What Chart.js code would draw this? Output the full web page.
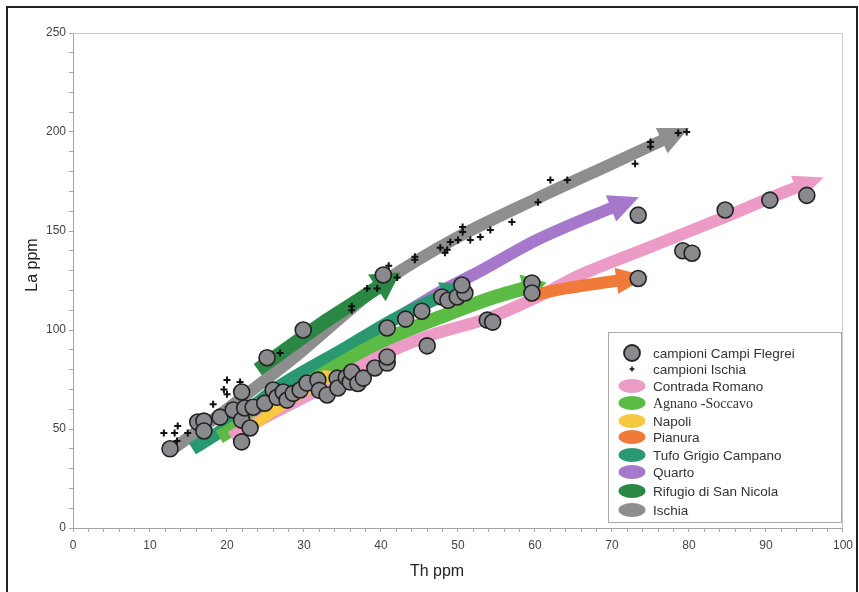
<!DOCTYPE html>
<html>
<head>
<meta charset="utf-8">
<script src="https://cdn.jsdelivr.net/npm/chart.js@4.4.0/dist/chart.umd.min.js"></script>
<style>
  html, body { margin: 0; padding: 0; background: #fff; }
  #wrap { position: relative; width: 859px; height: 592px; overflow: hidden; }
  #frame { position: absolute; left: 6px; top: 6px; width: 848px; height: 600px; border: 2px solid #222; pointer-events: none; }
</style>
</head>
<body>
<div id="wrap">
  <canvas id="grafico" width="859" height="592"></canvas>
  <div id="frame"></div>
</div>
<script>
// ===============================
// Dati (Th ppm / La ppm)
// ===============================
const cfTh = [12.6, 16.2, 17, 17, 19.1, 20.8, 21.9, 21.9, 21.9, 22.3, 23, 23.4, 24.9, 25.2, 26, 26.5, 27.3, 27.8, 28.6, 29.5,
  29.9, 30.4, 31.8, 32, 33, 34.3, 34.4, 35.5, 36, 36.2, 37, 37.7, 39.2, 40.3, 40.8, 40.8, 40.8, 43.2, 45.3, 46,
  47.9, 48.7, 49.9, 50.9, 50.5, 53.8, 54.5, 59.6, 59.6, 73.4, 73.4, 79.2, 80.4, 84.7, 90.5, 95.3];
const cfLa = [40, 53.5, 54, 49, 56, 59.6, 68.7, 54.5, 43.5, 60.6, 50.5, 61, 63, 86, 69.7, 66, 68.7, 64.6, 68, 69.7,
  100, 73.2, 74.7, 69.5, 67.2, 75.7, 70.7, 76, 73.7, 78.8, 73, 75.7, 80.8, 127.8, 83.3, 86.4, 101, 105.5, 109.5, 92,
  116.7, 115, 116.7, 118.7, 122.7, 105, 104, 123.7, 118.7, 158, 126, 140, 138.8, 160.6, 165.6, 168];

const iscTh = [11.8, 13.2, 13.6, 13.5, 14.9, 18.2, 19.6, 20, 20, 21.7, 26.9, 36.2, 36.2, 38.2, 39.5, 41, 42.1, 44.4, 44.4,
  47.7, 48.3, 48.6, 49, 50, 50.6, 50.6, 51.6, 52.9, 54.2, 57, 60.4, 62, 64.2, 73, 75, 75, 78.6, 79.7];
const iscLa = [48, 48, 51.5, 44, 48, 62.5, 70, 67.5, 74.7, 73.7, 88.4, 110, 112, 121, 121, 132.5, 126.5, 135.5, 137,
  141.5, 139, 140.5, 144.5, 145.5, 149.5, 152, 145.5, 147, 150.5, 154.5, 164.5, 175.8, 175.8, 184, 192.5, 195, 199.5, 200];

// Frecce di tendenza (ultimo punto = punta)
const ischiaTh = [13, 20, 29, 35, 41, 50, 60, 70, 80];
const ischiaLa = [40, 60, 87, 107, 126, 147, 166, 184, 202];
const quartoTh = [42.5, 48, 53, 60, 67, 73.5];
const quartoLa = [107, 120, 130, 145, 157, 167];
const agnanoTh = [19, 26, 33, 40, 48, 55, 61.5];
const agnanoLa = [46, 62, 79, 94, 107, 117, 124];
const romanoTh = [20.5, 25, 32, 40, 47, 54, 61, 66, 75, 84, 92, 97.5];
const romanoLa = [46, 56, 70, 87, 98, 106, 118, 128, 142, 156, 169, 177];
const tufoTh = [15.5, 20, 27, 35, 42, 51];
const tufoLa = [40, 51, 72, 90, 106, 123];
const napoliTh = [23.5, 28, 34.5];
const napoliLa = [52, 64, 79];
const pianuraTh = [59, 64, 69, 74.7];
const pianuraLa = [117, 121, 124, 127];
const rifugioTh = [24, 29, 33, 37, 42.5];
const rifugioLa = [80, 94, 105, 115, 129];

const legendLabels = ["campioni Campi Flegrei", "campioni Ischia", "Contrada Romano", "Agnano -Soccavo", "Napoli",
  "Pianura", "Tufo Grigio Campano", "Quarto", "Rifugio di San Nicola", "Ischia"];

const COL = {
  romano: "#ec9ac6",
  agnano: "#5cbb45",
  napoli: "#f7c842",
  pianura: "#f07a3a",
  tufo: "#2a9870",
  quarto: "#a678cc",
  rifugio: "#2b8744",
  ischia: "#8e8e8e"
};

function pts(xs, ys) {
  return xs.map((x, i) => ({ x, y: ys[i] }));
}

function freccia(label, xs, ys, color, width, len, half) {
  return {
    label,
    data: pts(xs, ys),
    showLine: true,
    borderColor: color,
    backgroundColor: color,
    borderWidth: width,
    borderCapStyle: "butt",
    borderJoinStyle: "round",
    tension: 0.3,
    pointRadius: 0,
    pointHoverRadius: 0,
    arrowHead: { len, half }
  };
}

// ===============================
// Plugin: punte delle frecce
// ===============================
function headGeom(meta, head) {
  const p = meta.data;
  const tip = p[p.length - 1];
  const prev = p[p.length - 2];
  const dx = tip.x - prev.x, dy = tip.y - prev.y;
  const L = Math.hypot(dx, dy) || 1;
  const ux = dx / L, uy = dy / L;
  return { tx: tip.x, ty: tip.y, ux, uy, bx: tip.x - ux * head.len, by: tip.y - uy * head.len };
}

const arrowPlugin = {
  id: "arrowHeads",
  beforeDatasetDraw(chart, args) {
    const ds = chart.data.datasets[args.index];
    if (!ds.arrowHead) return;
    const g = headGeom(args.meta, ds.arrowHead);
    const ctx = chart.ctx;
    const nx = -g.uy, ny = g.ux, B = 3000;
    const cx = g.bx + g.ux * 2, cy = g.by + g.uy * 2;
    ctx.save();
    ctx.beginPath();
    ctx.moveTo(cx + nx * B, cy + ny * B);
    ctx.lineTo(cx + nx * B - g.ux * B, cy + ny * B - g.uy * B);
    ctx.lineTo(cx - nx * B - g.ux * B, cy - ny * B - g.uy * B);
    ctx.lineTo(cx - nx * B, cy - ny * B);
    ctx.closePath();
    ctx.clip();
  },
  afterDatasetDraw(chart, args) {
    const ds = chart.data.datasets[args.index];
    if (!ds.arrowHead) return;
    const ctx = chart.ctx;
    ctx.restore();
    const g = headGeom(args.meta, ds.arrowHead);
    const h = ds.arrowHead.half;
    ctx.save();
    ctx.fillStyle = ds.borderColor;
    ctx.beginPath();
    ctx.moveTo(g.tx, g.ty);
    ctx.lineTo(g.bx - g.uy * h, g.by + g.ux * h);
    ctx.lineTo(g.bx + g.uy * h, g.by - g.ux * h);
    ctx.closePath();
    ctx.fill();
    ctx.restore();
  }
};

// Cornice dell'area del grafico
const plotBorder = {
  id: "plotBorder",
  beforeDatasetsDraw(chart) {
    const { ctx, chartArea: a } = chart;
    ctx.save();
    ctx.strokeStyle = "#cfc8c8";
    ctx.lineWidth = 1;
    ctx.beginPath();
    ctx.moveTo(a.left, a.top + 0.5);
    ctx.lineTo(a.right - 0.5, a.top + 0.5);
    ctx.lineTo(a.right - 0.5, a.bottom);
    ctx.stroke();
    ctx.restore();
  }
};

// Titoli assi + legenda
const overlay = {
  id: "overlay",
  afterDraw(chart) {
    const ctx = chart.ctx;
    ctx.save();
    ctx.fillStyle = "#222";
    ctx.font = "16px 'Liberation Sans', Arial, sans-serif";
    ctx.textAlign = "center";
    ctx.textBaseline = "middle";
    ctx.fillText("Th ppm", 437, 572);
    ctx.translate(33, 265);
    ctx.rotate(-Math.PI / 2);
    ctx.fillText("La ppm", 0, 0);
    ctx.restore();

    // legenda
    const bx = 608, by = 332, bw = 233, bh = 190;
    const rows = [353, 369, 386, 403, 421, 437, 455, 472, 491, 510];
    const sw = [null, null, COL.romano, COL.agnano, COL.napoli, COL.pianura, COL.tufo, COL.quarto, COL.rifugio, COL.ischia];
    ctx.save();
    ctx.fillStyle = "#fff";
    ctx.fillRect(bx, by, bw, bh);
    ctx.strokeStyle = "#a8a8a8";
    ctx.lineWidth = 1;
    ctx.strokeRect(bx + 0.5, by + 0.5, bw, bh);
    legendLabels.forEach((t, i) => {
      const y = rows[i];
      if (i === 0) {
        ctx.beginPath();
        ctx.arc(632, y, 8, 0, Math.PI * 2);
        ctx.fillStyle = "#8a8a8e";
        ctx.fill();
        ctx.lineWidth = 1.8;
        ctx.strokeStyle = "#222";
        ctx.stroke();
      } else if (i === 1) {
        ctx.strokeStyle = "#111";
        ctx.lineWidth = 1.6;
        ctx.beginPath();
        ctx.moveTo(629.5, y); ctx.lineTo(634.5, y);
        ctx.moveTo(632, y - 2.5); ctx.lineTo(632, y + 2.5);
        ctx.stroke();
      } else {
        ctx.beginPath();
        ctx.ellipse(632, y, 13.5, 7, 0, 0, Math.PI * 2);
        ctx.fillStyle = sw[i];
        ctx.fill();
      }
      ctx.fillStyle = "#333";
      ctx.textAlign = "left";
      ctx.textBaseline = "middle";
      ctx.font = i === 3 ? "14px 'Liberation Serif', 'DejaVu Serif', serif" : "13.5px 'Liberation Sans', Arial, sans-serif";
      ctx.fillText(t, 653, y + 1);
    });
    ctx.restore();
  }
};

// ===============================
// Grafico
// ===============================
Chart.defaults.font.family = "'Liberation Sans', Arial, sans-serif";
const AXIS = "#aaa2a0";

const ctx = document.getElementById("grafico");
new Chart(ctx, {
  type: "scatter",
  data: {
    datasets: [
      {
        label: "campioni Campi Flegrei",
        data: pts(cfTh, cfLa),
        pointRadius: 8,
        pointBackgroundColor: "#8a8a8e",
        pointBorderColor: "#222",
        pointBorderWidth: 1.6
      },
      {
        label: "campioni Ischia",
        data: pts(iscTh, iscLa),
        pointStyle: "cross",
        pointRadius: 3.5,
        pointBorderColor: "#111",
        pointBorderWidth: 2
      },
      freccia("Rifugio di San Nicola", rifugioTh, rifugioLa, COL.rifugio, 14, 28, 16),
      freccia("Pianura", pianuraTh, pianuraLa, COL.pianura, 12, 32, 13),
      freccia("Napoli", napoliTh, napoliLa, COL.napoli, 10, 14, 10),
      freccia("Contrada Romano", romanoTh, romanoLa, COL.romano, 12, 30, 13),
      freccia("Agnano -Soccavo", agnanoTh, agnanoLa, COL.agnano, 14, 24, 15),
      freccia("Tufo Grigio Campano", tufoTh, tufoLa, COL.tufo, 13, 24, 14),
      freccia("Quarto", quartoTh, quartoLa, COL.quarto, 12, 30, 14),
      freccia("Ischia", ischiaTh, ischiaLa, COL.ischia, 12, 30, 14)
    ]
  },
  options: {
    responsive: false,
    animation: false,
    events: [],
    layout: { padding: { top: 33, right: 16, left: 0, bottom: 0 } },
    plugins: { legend: { display: false }, tooltip: { enabled: false } },
    scales: {
      x: {
        type: "linear",
        min: 0,
        max: 100,
        afterFit: s => { s.height = 64; },
        ticks: {
          stepSize: 2,
          autoSkip: false,
          maxRotation: 0,
          padding: 6,
          color: "#444",
          font: { size: 12 },
          callback: v => (Math.round(v) % 10 === 0 ? Math.round(v) : "")
        },
        grid: { drawOnChartArea: false, drawTicks: true, tickLength: 4, color: AXIS },
        border: { color: AXIS }
      },
      y: {
        min: 0,
        max: 250,
        afterFit: s => { s.width = 73; },
        ticks: {
          stepSize: 10,
          autoSkip: false,
          padding: 3,
          color: "#444",
          font: { size: 12 },
          callback: v => (Math.round(v) % 50 === 0 ? Math.round(v) : "")
        },
        grid: { drawOnChartArea: false, drawTicks: true, tickLength: 4, color: AXIS },
        border: { color: AXIS }
      }
    }
  },
  plugins: [arrowPlugin, plotBorder, overlay]
});
</script>
</body>
</html>
